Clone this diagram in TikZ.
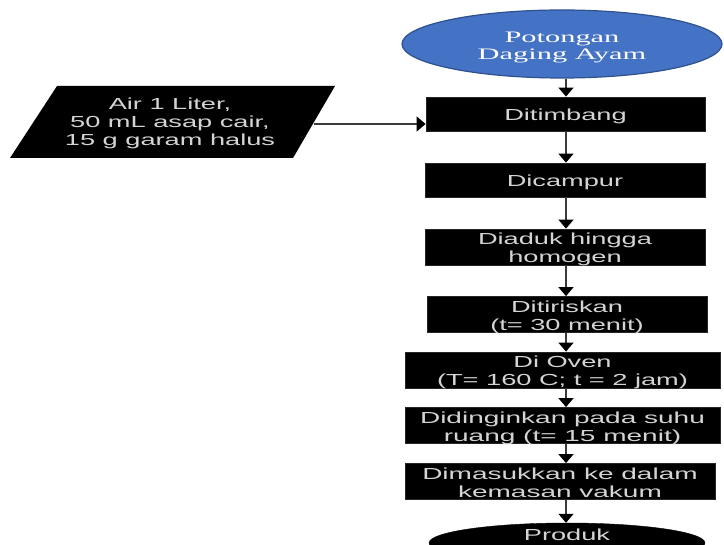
\documentclass[tikz,border=0pt]{standalone}
\usepackage{fontspec}
\setmainfont{Liberation Sans}
\newfontfamily\serfont{Liberation Serif}
\usetikzlibrary{shapes.geometric,arrows.meta}
\definecolor{ovblue}{HTML}{4472C4}
\definecolor{ovedge}{HTML}{2F528F}
\definecolor{txtgrey}{HTML}{D4D4D4}
\definecolor{arrgrey}{HTML}{3A3A3A}
\newcommand\stx[2][1.7]{\raisebox{-3pt}[\height][\depth]{\scalebox{#1}[1]{\begin{tabular}{@{}c@{}}#2\end{tabular}}}}
\tikzset{
  procbox/.style={rectangle, fill=black, draw=black!85, line width=0.8pt, inner sep=0pt,
    text=txtgrey, font=\fontsize{16}{18}\selectfont},
  startoval/.style={ellipse, fill=ovblue, draw=ovedge, line width=1.2pt, inner sep=0pt,
    text=white, font=\serfont\fontsize{16}{17}\selectfont},
  endoval/.style={ellipse, fill=black, draw=black, inner sep=0pt,
    text=txtgrey, font=\fontsize{16}{18}\selectfont},
  flowarr/.style={draw=arrgrey, line width=1.4pt, -{Triangle[width=15pt,length=9pt,color=black]}},
}
\begin{document}
\begin{tikzpicture}[x=1pt,y=-1pt]
\clip (0,0) rectangle (724,545);
\fill[white] (0,0) rectangle (724,545);
\coordinate (axis) at (566,0);
% start oval
\node[startoval, minimum width=320pt, minimum height=68pt] (top) at (562,44)
  {\raisebox{-1pt}[\height][\depth]{\stx[1.9]{Potongan\\Daging Ayam}}};
% process boxes
\node[procbox, minimum width=279pt, minimum height=34pt] (tim) at (565.5,114) {\stx{Ditimbang}};
\node[procbox, minimum width=280pt, minimum height=34pt] (cam) at (565,180) {\stx{Dicampur}};
\node[procbox, minimum width=280pt, minimum height=34pt] (adu) at (565,247) {\stx{Diaduk hingga\\homogen}};
\node[procbox, minimum width=280pt, minimum height=35pt] (tir) at (567,314.5) {\stx{Ditiriskan\\(t= 30 menit)}};
\node[procbox, minimum width=315pt, minimum height=34pt] (ove) at (562.5,370) {\stx{Di Oven\\(T= 160 C; t = 2 jam)}};
\node[procbox, minimum width=315pt, minimum height=35pt] (din) at (562.5,425.5) {\stx[1.75]{Didinginkan pada suhu\\ruang (t= 15 menit)}};
\node[procbox, minimum width=310pt, minimum height=35pt] (mas) at (560,481.5) {\stx[1.75]{Dimasukkan ke dalam\\kemasan vakum}};
% end oval
\node[endoval, minimum width=276pt, minimum height=40pt] (pro) at (567,543) {};
\node[text=txtgrey, font=\fontsize{16}{18}\selectfont, inner sep=0pt] (protxt) at (567,533.5) {\stx{Produk}};
% input parallelogram
\fill[black] (57,86) -- (335,86) -- (293,158) -- (10,158) -- cycle;
\node[text=txtgrey, font=\fontsize{16}{18}\selectfont, inner sep=0pt] (inp) at (170,121)
  {\stx{Air 1 Liter,\\50 mL asap cair,\\15 g garam halus}};
\coordinate (inpE) at (314,124);
% connectors
\draw[flowarr] (inpE) -- (inpE -| tim.west);
\draw[flowarr] (top.south -| axis) -- (tim.north -| axis);
\draw[flowarr] (tim.south -| axis) -- (cam.north -| axis);
\draw[flowarr] (cam.south -| axis) -- (adu.north -| axis);
\draw[flowarr] (adu.south -| axis) -- (tir.north -| axis);
\draw[flowarr] (tir.south -| axis) -- (ove.north -| axis);
\draw[flowarr] (ove.south -| axis) -- (din.north -| axis);
\draw[flowarr] (din.south -| axis) -- (mas.north -| axis);
\draw[flowarr] (mas.south -| axis) -- (pro.north -| axis);
\end{tikzpicture}
\end{document}
